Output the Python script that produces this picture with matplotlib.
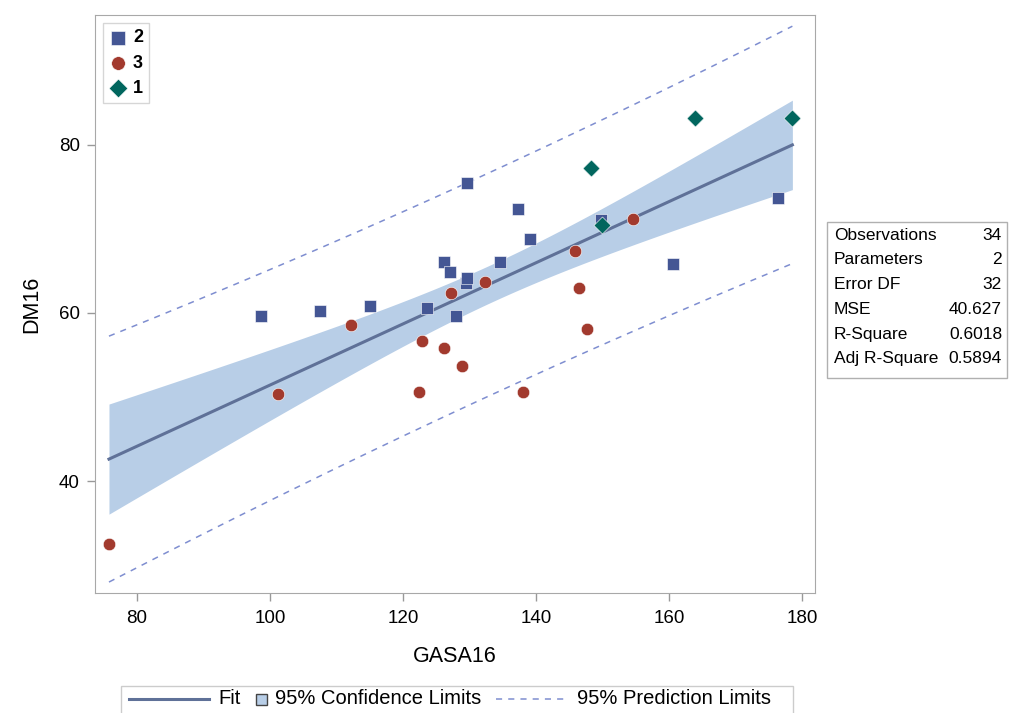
import numpy as np
import matplotlib
matplotlib.use('Agg')
import matplotlib.pyplot as plt
from matplotlib.lines import Line2D
from matplotlib.patches import Rectangle

plt.rcParams['font.family'] = ['Liberation Sans', 'DejaVu Sans']

# group 2 (squares)
gasa_2 = [98.7, 107.5, 115.1, 123.6, 126.2, 127.1, 128.0, 129.4, 129.6, 129.6,
          134.6, 137.3, 139.1, 149.8, 160.5, 176.3]
dm_2 = [59.6, 60.2, 60.8, 60.6, 66.1, 64.8, 59.6, 63.6, 64.1, 75.4,
        66.1, 72.3, 68.8, 71.0, 65.8, 73.6]
# group 3 (circles)
gasa_3 = [75.8, 101.2, 112.2, 122.4, 122.8, 126.1, 127.2, 128.9, 132.3, 138.0,
          145.8, 146.5, 147.7, 154.5]
dm_3 = [32.5, 50.3, 58.5, 50.6, 56.6, 55.8, 62.3, 53.7, 63.7, 50.6,
        67.4, 62.9, 58.1, 71.2]
# group 1 (diamonds)
gasa_1 = [148.2, 149.9, 163.9, 178.5]
dm_1 = [77.2, 70.4, 83.2, 83.2]

stat_names = ['Observations', 'Parameters', 'Error DF', 'MSE', 'R-Square', 'Adj R-Square']
stat_values = ['34', '2', '32', '40.627', '0.6018', '0.5894']

FIT_C = '#5f7198'
CI_C = '#b8cee7'
PI_C = '#7f8ed0'

x = np.array(gasa_2 + gasa_3 + gasa_1)
y = np.array(dm_2 + dm_3 + dm_1)
n = len(x)
b1, b0 = np.polyfit(x, y, 1)
resid = y - (b0 + b1 * x)
mse = np.sum(resid ** 2) / (n - 2)
t = 2.0369  # t(0.975, 32)
xs = np.linspace(x.min(), x.max(), 200)
fit = b0 + b1 * xs
h = 1.0 / n + (xs - x.mean()) ** 2 / np.sum((x - x.mean()) ** 2)
ci = t * np.sqrt(mse * h)
pi = t * np.sqrt(mse * (1 + h))

W, H = 1010, 713
fig = plt.figure(figsize=(W / 100, H / 100), dpi=100)
ax = fig.add_axes([95 / W, 1 - 593 / H, 720 / W, 578 / H])

ax.fill_between(xs, fit - ci, fit + ci, color=CI_C, lw=0, zorder=1)
ax.plot(xs, fit, color=FIT_C, lw=2.2, zorder=2)
ax.plot(xs, fit + pi, color=PI_C, lw=1.1, ls=(0, (4, 4)), zorder=2)
ax.plot(xs, fit - pi, color=PI_C, lw=1.1, ls=(0, (4, 4)), zorder=2)

h2 = ax.scatter(gasa_2, dm_2, marker='s', s=80, color='#445694', edgecolor='white', lw=0.4, zorder=3)
h3 = ax.scatter(gasa_3, dm_3, marker='o', s=80, color='#a23a2e', edgecolor='white', lw=0.4, zorder=3)
h1 = ax.scatter(gasa_1, dm_1, marker='D', s=75, color='#01665e', edgecolor='white', lw=0.4, zorder=3)

ax.set_xlim(73.7, 181.9)
ax.set_ylim(26.7, 95.4)
ax.set_xticks([80, 100, 120, 140, 160, 180])
ax.set_yticks([40, 60, 80])
ax.tick_params(labelsize=13.5, color='#999999', length=6, width=1)
ax.tick_params(axis='x', pad=6)
ax.tick_params(axis='y', pad=5)
for s in ax.spines.values():
    s.set_color('#a8a8a8')
ax.set_xlabel('GASA16', fontsize=15.5, labelpad=14)
ax.set_ylabel('DM16', fontsize=15.5, labelpad=12)

leg = ax.legend([h2, h3, h1], ['2', '3', '1'], loc='upper left',
                prop={'weight': 'bold', 'size': 13}, handletextpad=0.3, handlelength=1.0,
                borderpad=0.35, labelspacing=0.45, fancybox=False, edgecolor='#cccccc',
                borderaxespad=0.45, markerscale=1.1)
leg.get_frame().set_linewidth(1)

# fit statistics box
bx0, bx1, by0, by1 = 827, 1007, 222, 378
fig.patches.append(Rectangle((bx0 / W, 1 - by1 / H), (bx1 - bx0) / W, (by1 - by0) / H,
                             transform=fig.transFigure, fill=False, edgecolor='#b0b0b0', lw=1))
for i, (nm, vl) in enumerate(zip(stat_names, stat_values)):
    yy = 1 - (235 + i * 24.8) / H
    fig.text((bx0 + 7) / W, yy, nm, fontsize=12.5, va='center', ha='left')
    fig.text((bx1 - 5) / W, yy, vl, fontsize=12.5, va='center', ha='right')

# bottom legend
fig.patches.append(Rectangle((121 / W, 1 - 725 / H), (793 - 121) / W, (725 - 686) / H,
                             transform=fig.transFigure, fill=False, edgecolor='#cccccc', lw=1))
ly = 1 - 699 / H
fig.add_artist(Line2D([129 / W, 209 / W], [ly, ly], color=FIT_C, lw=2.2))
fig.text(218 / W, ly, 'Fit', fontsize=14.5, va='center', ha='left')
fig.patches.append(Rectangle((256 / W, 1 - 704.5 / H), 11 / W, 11 / H,
                             transform=fig.transFigure, facecolor=CI_C, edgecolor='#444444', lw=1))
fig.text(275 / W, ly, '95% Confidence Limits', fontsize=14.5, va='center', ha='left')
fig.add_artist(Line2D([496 / W, 564 / W], [ly, ly], color=PI_C, lw=1.1, ls=(0, (4, 4))))
fig.text(577 / W, ly, '95% Prediction Limits', fontsize=14.5, va='center', ha='left')

fig.savefig('out.png', dpi=100)
